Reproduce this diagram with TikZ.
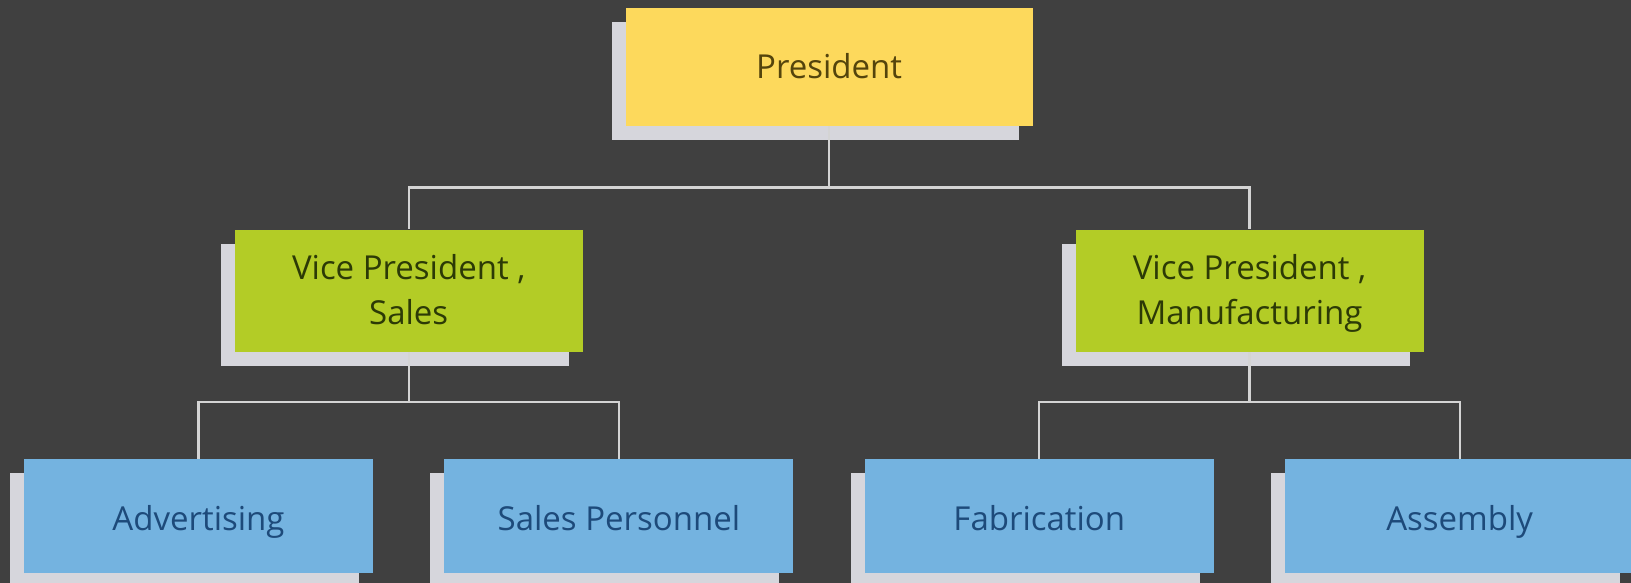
\documentclass[tikz,border=0pt]{standalone}
\usepackage{fontspec}
\setsansfont{Open Sans}
\usetikzlibrary{positioning,shadows,calc}

\definecolor{bggrey}{HTML}{404040}
\definecolor{presyellow}{HTML}{FDD95C}
\definecolor{vpgreen}{HTML}{B3CC26}
\definecolor{deptblue}{HTML}{74B3E0}
\definecolor{shadowgrey}{HTML}{D6D6DC}
\definecolor{linkgrey}{HTML}{D4D4D4}
\definecolor{prestext}{HTML}{54440C}
\definecolor{vptext}{HTML}{2C3A06}
\definecolor{depttext}{HTML}{1D4A7A}

\begin{document}
\begin{tikzpicture}[x=1pt, y=-1pt,
					box/.style={rectangle, inner sep=0pt, align=center, font=\sffamily\fontsize{33}{45}\selectfont,
						execute at end node={\rule[-13pt]{0pt}{13pt}},
						drop shadow={shadow xshift=-14pt, shadow yshift=-14pt, fill=shadowgrey, opacity=1}},
					presbox/.style={box, fill=presyellow, text=prestext, minimum width=407pt, minimum height=118pt,
						execute at begin node={\rule{0pt}{35pt}}},
					vpbox/.style={box, fill=vpgreen, text=vptext, minimum width=348pt, minimum height=122pt,
						execute at begin node={\rule{0pt}{80pt}}},
					deptbox/.style={box, fill=deptblue, text=depttext, minimum width=349pt, minimum height=114pt,
						execute at begin node={\rule{0pt}{41pt}}},
					link/.style={draw=linkgrey, line width=2.2pt}
				]
				\useasboundingbox[fill=bggrey] (0,0) rectangle (1631,583);
				% departments
				\node[deptbox] (advert) at (198.5,516) {Advertising};
				\node[deptbox] (salespers) [right=71pt of advert] {Sales Personnel};
				\node[deptbox] (fabric) [right=71pt of salespers] {Fabrication};
				\node[deptbox] (assembly) [right=71pt of fabric] {Assembly};
				% vice presidents
				\coordinate (salesmid) at ($(advert.north)!0.5!(salespers.north)$);
				\coordinate (mfgmid) at ($(fabric.north)!0.5!(assembly.north)$);
				\node[vpbox] (vpsales) [above=107pt of salesmid] {Vice President ,\\Sales};
				\node[vpbox] (vpmfg) [above=107pt of mfgmid] {Vice President ,\\Manufacturing};
				% president
				\coordinate (vpmid) at ($(vpsales.north)!0.5!(vpmfg.north)$);
				\node[presbox] (president) [above=103pt of vpmid] {President};
				\begin{scope}[link]
				\draw (president.south) -- ++(0,61) -| (vpsales.north);
				\draw (president.south) -- ++(0,61) -| (vpmfg.north);
				\draw (vpsales.south) -- ++(0,50) -| (advert.north);
				\draw (vpsales.south) -- ++(0,50) -| (salespers.north);
				\draw (vpmfg.south) -- ++(0,50) -| (fabric.north);
				\draw (vpmfg.south) -- ++(0,50) -| (assembly.north);
				\end{scope}
				\end{tikzpicture}
\end{document}
